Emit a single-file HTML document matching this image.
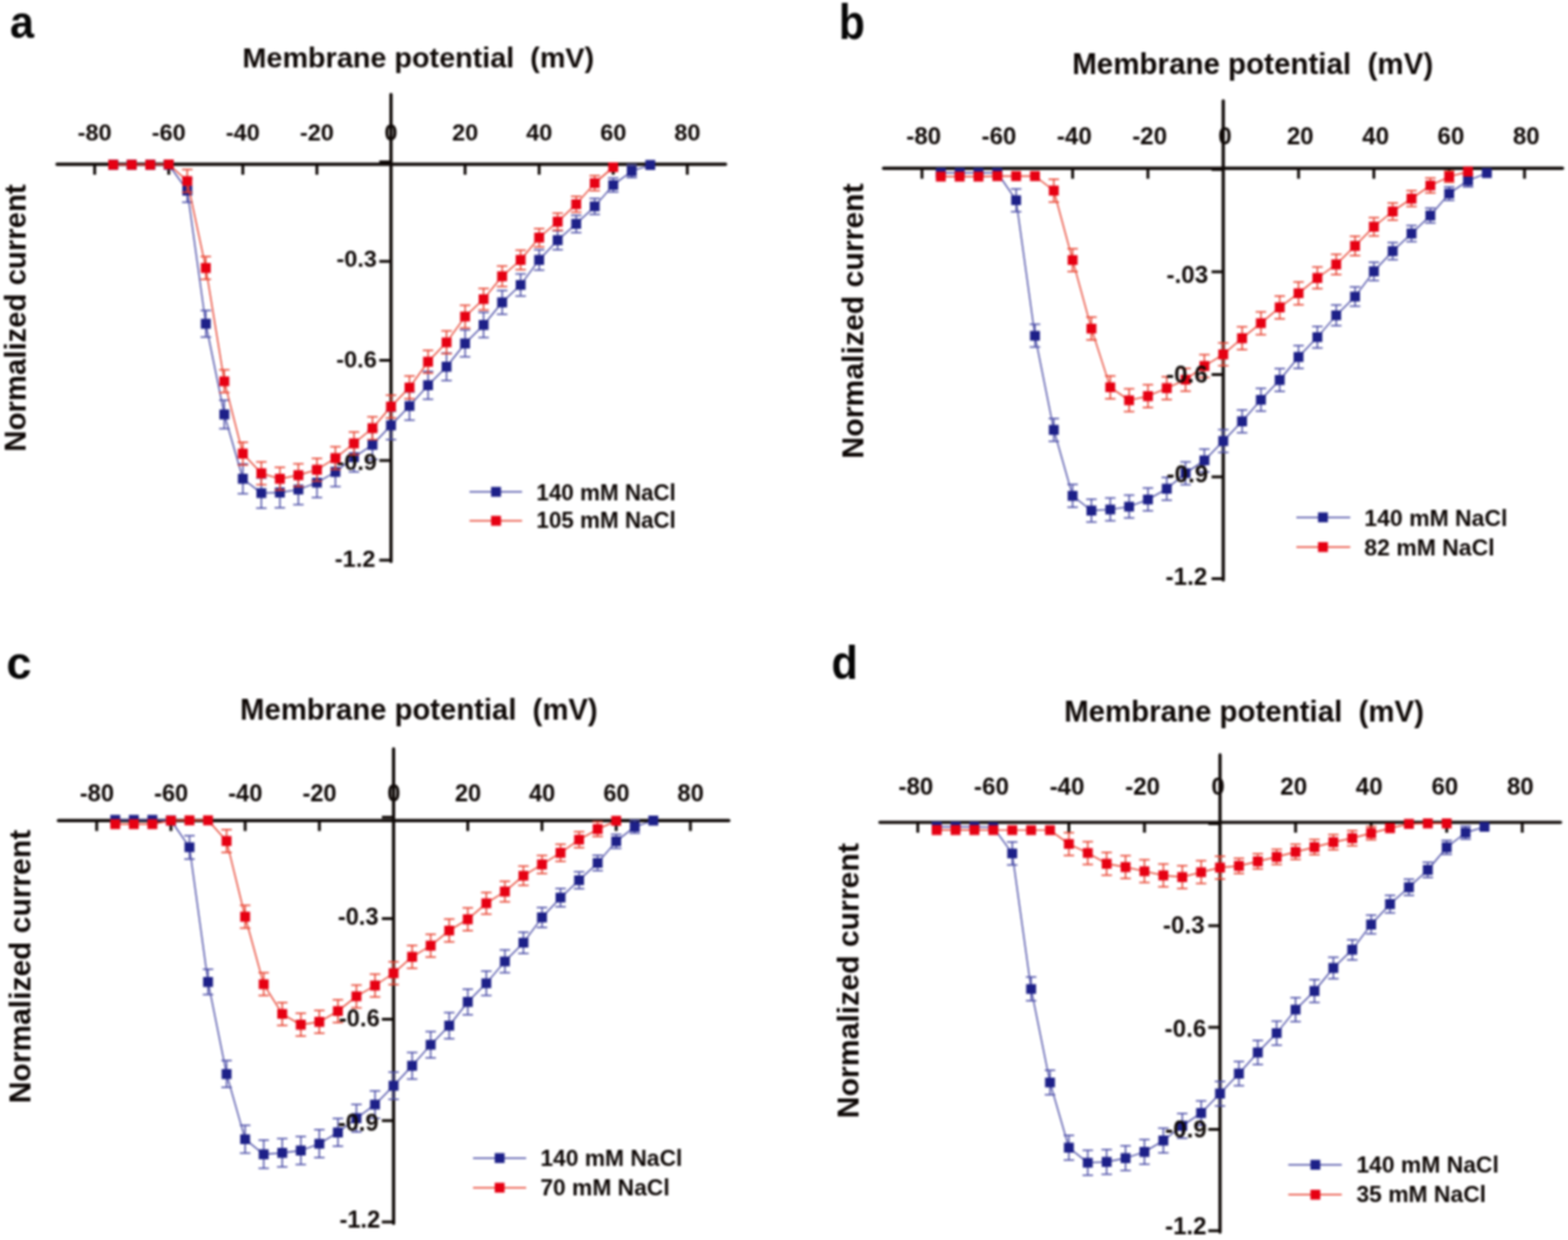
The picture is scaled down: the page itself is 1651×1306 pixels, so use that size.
<!DOCTYPE html>
<html><head><meta charset="utf-8"><title>Normalized current vs membrane potential</title>
<style>
html,body{margin:0;padding:0;background:#fff;width:1651px;height:1306px;overflow:hidden;}
svg{display:block;}
#fig{width:1651px;height:1306px;filter:blur(1px);}
text{font-family:"Liberation Sans",Arial,Helvetica,sans-serif;font-weight:bold;fill:#0e0806;}
</style></head><body>
<div id="fig">
<svg width="1651" height="1306" viewBox="0 0 1651 1306">
<rect width="1651" height="1306" fill="#fff"/>
<g id="panel-a">
<line x1="60" y1="173" x2="764" y2="173" stroke="#0e0806" stroke-width="3.4" stroke-linecap="round"/>
<line x1="411.7" y1="99.5" x2="411.7" y2="591.4" stroke="#0e0806" stroke-width="3.4" stroke-linecap="round"/>
<path d="M99.7 173V184M177.7 173V184M255.7 173V184M333.7 173V184M489.7 173V184M567.7 173V184M645.7 173V184M723.7 173V184M399.4 170.4H411.7M399.4 275.3H411.7M399.4 379.6H411.7M399.4 485H411.7M399.4 589.9H411.7" stroke="#0e0806" stroke-width="3.0" fill="none"/>
<polyline points="119.2,173.5 138.7,173.5 158.2,173.5 177.7,173.5 197.2,200.7 216.7,341 236.2,436.5 255.7,504.3 275.2,519.4 294.7,518.8 314.2,515.6 333.7,508.4 353.2,497 372.7,481.6 392.2,468.5 411.7,448 431.2,427.6 450.7,405.8 470.2,386.3 489.7,361.7 509.2,342.2 528.7,318.5 548.2,300.1 567.7,273.7 587.2,253 606.7,235.8 626.2,217.4 645.7,194.9 665.2,180.2 684.7,173.8" fill="none" stroke="#4a4ca6" stroke-width="1.4" stroke-linejoin="round"/>
<path d="M197.2 188.37V213.03M191.7 188.37h11M191.7 213.03h11M216.7 327.12V354.88M211.2 327.12h11M211.2 354.88h11M236.2 421.57V451.43M230.7 421.57h11M230.7 451.43h11M255.7 488.63V519.97M250.2 488.63h11M250.2 519.97h11M275.2 503.56V535.24M269.7 503.56h11M269.7 535.24h11M294.7 502.97V534.63M289.2 502.97h11M289.2 534.63h11M314.2 499.8V531.4M308.7 499.8h11M308.7 531.4h11M333.7 492.68V524.12M328.2 492.68h11M328.2 524.12h11M353.2 481.41V512.59M347.7 481.41h11M347.7 512.59h11M372.7 466.18V497.02M367.2 466.18h11M367.2 497.02h11M392.2 453.22V483.78M386.7 453.22h11M386.7 483.78h11M411.7 432.95V463.05M406.2 432.95h11M406.2 463.05h11M431.2 412.77V442.43M425.7 412.77h11M425.7 442.43h11M450.7 391.21V420.39M445.2 391.21h11M445.2 420.39h11M470.2 371.93V400.67M464.7 371.93h11M464.7 400.67h11M489.7 347.6V375.8M484.2 347.6h11M484.2 375.8h11M509.2 328.91V355.49M503.7 328.91h11M503.7 355.49h11M528.7 306.07V330.93M523.2 306.07h11M523.2 330.93h11M548.2 288.47V311.73M542.7 288.47h11M542.7 311.73h11M567.7 262.96V284.44M562.2 262.96h11M562.2 284.44h11M587.2 243.09V262.91M581.7 243.09h11M581.7 262.91h11M606.7 226.68V244.92M601.2 226.68h11M601.2 244.92h11M626.2 209.08V225.72M620.7 209.08h11M620.7 225.72h11M645.7 187.43V202.37M640.2 187.43h11M640.2 202.37h11M665.2 173.49V186.91M659.7 173.49h11M659.7 186.91h11" fill="none" stroke="#4a4ca6" stroke-width="1.5"/>
<path d="M114 168.3h10.4v10.4h-10.4zM133.5 168.3h10.4v10.4h-10.4zM153 168.3h10.4v10.4h-10.4zM172.5 168.3h10.4v10.4h-10.4zM192 195.5h10.4v10.4h-10.4zM211.5 335.8h10.4v10.4h-10.4zM231 431.3h10.4v10.4h-10.4zM250.5 499.1h10.4v10.4h-10.4zM270 514.2h10.4v10.4h-10.4zM289.5 513.6h10.4v10.4h-10.4zM309 510.4h10.4v10.4h-10.4zM328.5 503.2h10.4v10.4h-10.4zM348 491.8h10.4v10.4h-10.4zM367.5 476.4h10.4v10.4h-10.4zM387 463.3h10.4v10.4h-10.4zM406.5 442.8h10.4v10.4h-10.4zM426 422.4h10.4v10.4h-10.4zM445.5 400.6h10.4v10.4h-10.4zM465 381.1h10.4v10.4h-10.4zM484.5 356.5h10.4v10.4h-10.4zM504 337h10.4v10.4h-10.4zM523.5 313.3h10.4v10.4h-10.4zM543 294.9h10.4v10.4h-10.4zM562.5 268.5h10.4v10.4h-10.4zM582 247.8h10.4v10.4h-10.4zM601.5 230.6h10.4v10.4h-10.4zM621 212.2h10.4v10.4h-10.4zM640.5 189.7h10.4v10.4h-10.4zM660 175h10.4v10.4h-10.4zM679.5 168.6h10.4v10.4h-10.4z" fill="#1d2088"/>
<line x1="494.4" y1="518" x2="549.7" y2="518" stroke="#4a4ca6" stroke-width="1.5"/>
<rect x="517.1" y="512.8" width="10.4" height="10.4" fill="#1d2088"/>
<line x1="494.4" y1="548.5" x2="549.7" y2="548.5" stroke="#e8402e" stroke-width="1.5"/>
<rect x="517.1" y="543.3" width="10.4" height="10.4" fill="#e60012"/>
<text x="99.7" y="147.73" font-size="24.8" text-anchor="middle">-80</text>
<text x="177.7" y="147.73" font-size="24.8" text-anchor="middle">-60</text>
<text x="255.7" y="147.73" font-size="24.8" text-anchor="middle">-40</text>
<text x="333.7" y="147.73" font-size="24.8" text-anchor="middle">-20</text>
<text x="411.7" y="147.73" font-size="24.8" text-anchor="middle">0</text>
<text x="489.7" y="147.73" font-size="24.8" text-anchor="middle">20</text>
<text x="567.7" y="147.73" font-size="24.8" text-anchor="middle">40</text>
<text x="645.7" y="147.73" font-size="24.8" text-anchor="middle">60</text>
<text x="723.7" y="147.73" font-size="24.8" text-anchor="middle">80</text>
<text x="396.92" y="281.48" font-size="24.8" text-anchor="end">-0.3</text>
<text x="396.72" y="386.68" font-size="24.8" text-anchor="end">-0.6</text>
<text x="396.92" y="495.28" font-size="24.8" text-anchor="end">-0.9</text>
<text x="395.32" y="596.68" font-size="24.8" text-anchor="end">-1.2</text>
<text x="440.5" y="71.3" font-size="30.3" text-anchor="middle" xml:space="preserve">Membrane potential  (mV)</text>
<text transform="translate(27.3,334.9) rotate(-90)" font-size="30.9" text-anchor="middle">Normalized current</text>
<text transform="translate(10.6,40) scale(0.93,1)" font-size="49.0" style="fill:#050505">a</text>
<text x="564.8" y="526.8" font-size="23.6">140 mM NaCl</text>
<text x="564.8" y="556.3" font-size="23.6">105 mM NaCl</text>
<polyline points="119.2,173.5 138.7,173.5 158.2,173.5 177.7,173.1 197.2,190.6 216.7,282.2 236.2,401.6 255.7,477.8 275.2,498.5 294.7,504.3 314.2,500.5 333.7,494.7 353.2,482.5 372.7,467 392.2,451 411.7,428.3 431.2,408.1 450.7,381 470.2,360.6 489.7,333.4 509.2,315.1 528.7,291 548.2,273.7 567.7,250.3 587.2,233.5 606.7,215.1 626.2,192.9 645.7,176.1" fill="none" stroke="#e8402e" stroke-width="1.4" stroke-linejoin="round"/>
<path d="M197.2 178.6V202.6M191.7 178.6h11M191.7 202.6h11M216.7 270.2V294.2M211.2 270.2h11M211.2 294.2h11M236.2 389.6V413.6M230.7 389.6h11M230.7 413.6h11M255.7 465.8V489.8M250.2 465.8h11M250.2 489.8h11M275.2 486.5V510.5M269.7 486.5h11M269.7 510.5h11M294.7 492.3V516.3M289.2 492.3h11M289.2 516.3h11M314.2 488.5V512.5M308.7 488.5h11M308.7 512.5h11M333.7 482.7V506.7M328.2 482.7h11M328.2 506.7h11M353.2 470.5V494.5M347.7 470.5h11M347.7 494.5h11M372.7 455V479M367.2 455h11M367.2 479h11M392.2 439V463M386.7 439h11M386.7 463h11M411.7 416.3V440.3M406.2 416.3h11M406.2 440.3h11M431.2 396.1V420.1M425.7 396.1h11M425.7 420.1h11M450.7 369V393M445.2 369h11M445.2 393h11M470.2 348.6V372.6M464.7 348.6h11M464.7 372.6h11M489.7 321.4V345.4M484.2 321.4h11M484.2 345.4h11M509.2 303.7V326.5M503.7 303.7h11M503.7 326.5h11M528.7 280.2V301.8M523.2 280.2h11M523.2 301.8h11M548.2 263.5V283.9M542.7 263.5h11M542.7 283.9h11M567.7 240.7V259.9M562.2 240.7h11M562.2 259.9h11M587.2 224.5V242.5M581.7 224.5h11M581.7 242.5h11M606.7 206.7V223.5M601.2 206.7h11M601.2 223.5h11M626.2 185.1V200.7M620.7 185.1h11M620.7 200.7h11" fill="none" stroke="#e8402e" stroke-width="1.5"/>
<path d="M114 168.3h10.4v10.4h-10.4zM133.5 168.3h10.4v10.4h-10.4zM153 168.3h10.4v10.4h-10.4zM172.5 167.9h10.4v10.4h-10.4zM192 185.4h10.4v10.4h-10.4zM211.5 277h10.4v10.4h-10.4zM231 396.4h10.4v10.4h-10.4zM250.5 472.6h10.4v10.4h-10.4zM270 493.3h10.4v10.4h-10.4zM289.5 499.1h10.4v10.4h-10.4zM309 495.3h10.4v10.4h-10.4zM328.5 489.5h10.4v10.4h-10.4zM348 477.3h10.4v10.4h-10.4zM367.5 461.8h10.4v10.4h-10.4zM387 445.8h10.4v10.4h-10.4zM406.5 423.1h10.4v10.4h-10.4zM426 402.9h10.4v10.4h-10.4zM445.5 375.8h10.4v10.4h-10.4zM465 355.4h10.4v10.4h-10.4zM484.5 328.2h10.4v10.4h-10.4zM504 309.9h10.4v10.4h-10.4zM523.5 285.8h10.4v10.4h-10.4zM543 268.5h10.4v10.4h-10.4zM562.5 245.1h10.4v10.4h-10.4zM582 228.3h10.4v10.4h-10.4zM601.5 209.9h10.4v10.4h-10.4zM621 187.7h10.4v10.4h-10.4zM640.5 170.9h10.4v10.4h-10.4z" fill="#e60012"/>
</g>
<g id="panel-b">
<line x1="930.3" y1="177.3" x2="1645.2" y2="177.3" stroke="#0e0806" stroke-width="3.4" stroke-linecap="round"/>
<line x1="1288" y1="106.1" x2="1288" y2="610.9" stroke="#0e0806" stroke-width="3.4" stroke-linecap="round"/>
<path d="M970.8 177.3V188.3M1050.1 177.3V188.3M1129.4 177.3V188.3M1208.7 177.3V188.3M1367.3 177.3V188.3M1446.6 177.3V188.3M1525.9 177.3V188.3M1605.2 177.3V188.3M1275.7 178.4H1288M1275.7 286.2H1288M1275.7 394.4H1288M1275.7 502.3H1288M1275.7 609.4H1288" stroke="#0e0806" stroke-width="3.0" fill="none"/>
<polyline points="990.62,182 1010.45,182 1030.28,182 1050.1,182 1069.92,210.9 1089.75,353.6 1109.58,452.7 1129.4,522.2 1149.22,537.8 1169.05,536.6 1188.88,533.6 1208.7,526.1 1228.53,514.8 1248.35,498.4 1268.17,484.9 1288,464.5 1307.83,443.7 1327.65,421.1 1347.47,400.2 1367.3,376 1387.12,355.1 1406.95,332.1 1426.78,312.4 1446.6,285.8 1466.42,264.5 1486.25,246 1506.08,227 1525.9,203.9 1545.72,190.2 1565.55,182.3" fill="none" stroke="#4a4ca6" stroke-width="1.4" stroke-linejoin="round"/>
<path d="M1069.92 198.9V222.9M1064.42 198.9h11M1064.42 222.9h11M1089.75 341.6V365.6M1084.25 341.6h11M1084.25 365.6h11M1109.58 440.7V464.7M1104.08 440.7h11M1104.08 464.7h11M1129.4 510.2V534.2M1123.9 510.2h11M1123.9 534.2h11M1149.22 525.8V549.8M1143.72 525.8h11M1143.72 549.8h11M1169.05 524.6V548.6M1163.55 524.6h11M1163.55 548.6h11M1188.88 521.6V545.6M1183.38 521.6h11M1183.38 545.6h11M1208.7 514.1V538.1M1203.2 514.1h11M1203.2 538.1h11M1228.53 502.8V526.8M1223.03 502.8h11M1223.03 526.8h11M1248.35 486.4V510.4M1242.85 486.4h11M1242.85 510.4h11M1268.17 472.9V496.9M1262.67 472.9h11M1262.67 496.9h11M1288 452.5V476.5M1282.5 452.5h11M1282.5 476.5h11M1307.83 431.7V455.7M1302.33 431.7h11M1302.33 455.7h11M1327.65 409.1V433.1M1322.15 409.1h11M1322.15 433.1h11M1347.47 388.2V412.2M1341.97 388.2h11M1341.97 412.2h11M1367.3 364V388M1361.8 364h11M1361.8 388h11M1387.12 343.7V366.5M1381.62 343.7h11M1381.62 366.5h11M1406.95 321.3V342.9M1401.45 321.3h11M1401.45 342.9h11M1426.78 302.2V322.6M1421.28 302.2h11M1421.28 322.6h11M1446.6 276.2V295.4M1441.1 276.2h11M1441.1 295.4h11M1466.42 255.5V273.5M1460.92 255.5h11M1460.92 273.5h11M1486.25 237.6V254.4M1480.75 237.6h11M1480.75 254.4h11M1506.08 219.2V234.8M1500.58 219.2h11M1500.58 234.8h11M1525.9 196.7V211.1M1520.4 196.7h11M1520.4 211.1h11M1545.72 183.6V196.8M1540.22 183.6h11M1540.22 196.8h11" fill="none" stroke="#4a4ca6" stroke-width="1.5"/>
<path d="M985.42 176.8h10.4v10.4h-10.4zM1005.25 176.8h10.4v10.4h-10.4zM1025.08 176.8h10.4v10.4h-10.4zM1044.9 176.8h10.4v10.4h-10.4zM1064.72 205.7h10.4v10.4h-10.4zM1084.55 348.4h10.4v10.4h-10.4zM1104.38 447.5h10.4v10.4h-10.4zM1124.2 517h10.4v10.4h-10.4zM1144.02 532.6h10.4v10.4h-10.4zM1163.85 531.4h10.4v10.4h-10.4zM1183.67 528.4h10.4v10.4h-10.4zM1203.5 520.9h10.4v10.4h-10.4zM1223.33 509.6h10.4v10.4h-10.4zM1243.15 493.2h10.4v10.4h-10.4zM1262.97 479.7h10.4v10.4h-10.4zM1282.8 459.3h10.4v10.4h-10.4zM1302.62 438.5h10.4v10.4h-10.4zM1322.45 415.9h10.4v10.4h-10.4zM1342.27 395h10.4v10.4h-10.4zM1362.1 370.8h10.4v10.4h-10.4zM1381.92 349.9h10.4v10.4h-10.4zM1401.75 326.9h10.4v10.4h-10.4zM1421.58 307.2h10.4v10.4h-10.4zM1441.4 280.6h10.4v10.4h-10.4zM1461.22 259.3h10.4v10.4h-10.4zM1481.05 240.8h10.4v10.4h-10.4zM1500.88 221.8h10.4v10.4h-10.4zM1520.7 198.7h10.4v10.4h-10.4zM1540.52 185h10.4v10.4h-10.4zM1560.35 177.1h10.4v10.4h-10.4z" fill="#1d2088"/>
<polyline points="990.62,186 1010.45,186 1030.28,186 1050.1,185.5 1069.92,185.5 1089.75,185.5 1109.58,200.7 1129.4,273.9 1149.22,346.1 1169.05,407.9 1188.88,421.6 1208.7,417.2 1228.53,408.8 1248.35,399.9 1268.17,385.5 1288,373.3 1307.83,356.3 1327.65,340.4 1347.47,323.8 1367.3,308.9 1387.12,292.7 1406.95,278.5 1426.78,259 1446.6,238.8 1466.42,222.7 1486.25,209.2 1506.08,195.4 1525.9,186.1 1545.72,180.7" fill="none" stroke="#e8402e" stroke-width="1.4" stroke-linejoin="round"/>
<path d="M1109.58 188.7V212.7M1104.08 188.7h11M1104.08 212.7h11M1129.4 261.9V285.9M1123.9 261.9h11M1123.9 285.9h11M1149.22 334.1V358.1M1143.72 334.1h11M1143.72 358.1h11M1169.05 395.9V419.9M1163.55 395.9h11M1163.55 419.9h11M1188.88 409.6V433.6M1183.38 409.6h11M1183.38 433.6h11M1208.7 405.2V429.2M1203.2 405.2h11M1203.2 429.2h11M1228.53 396.8V420.8M1223.03 396.8h11M1223.03 420.8h11M1248.35 387.9V411.9M1242.85 387.9h11M1242.85 411.9h11M1268.17 373.5V397.5M1262.67 373.5h11M1262.67 397.5h11M1288 361.3V385.3M1282.5 361.3h11M1282.5 385.3h11M1307.83 344.3V368.3M1302.33 344.3h11M1302.33 368.3h11M1327.65 328.4V352.4M1322.15 328.4h11M1322.15 352.4h11M1347.47 311.8V335.8M1341.97 311.8h11M1341.97 335.8h11M1367.3 296.9V320.9M1361.8 296.9h11M1361.8 320.9h11M1387.12 281.3V304.1M1381.62 281.3h11M1381.62 304.1h11M1406.95 267.7V289.3M1401.45 267.7h11M1401.45 289.3h11M1426.78 248.8V269.2M1421.28 248.8h11M1421.28 269.2h11M1446.6 229.2V248.4M1441.1 229.2h11M1441.1 248.4h11M1466.42 213.7V231.7M1460.92 213.7h11M1460.92 231.7h11M1486.25 200.8V217.6M1480.75 200.8h11M1480.75 217.6h11M1506.08 187.6V203.2M1500.58 187.6h11M1500.58 203.2h11M1525.9 180.25V191.95M1520.4 180.25h11M1520.4 191.95h11" fill="none" stroke="#e8402e" stroke-width="1.5"/>
<path d="M985.42 180.8h10.4v10.4h-10.4zM1005.25 180.8h10.4v10.4h-10.4zM1025.08 180.8h10.4v10.4h-10.4zM1044.9 180.3h10.4v10.4h-10.4zM1064.72 180.3h10.4v10.4h-10.4zM1084.55 180.3h10.4v10.4h-10.4zM1104.38 195.5h10.4v10.4h-10.4zM1124.2 268.7h10.4v10.4h-10.4zM1144.02 340.9h10.4v10.4h-10.4zM1163.85 402.7h10.4v10.4h-10.4zM1183.67 416.4h10.4v10.4h-10.4zM1203.5 412h10.4v10.4h-10.4zM1223.33 403.6h10.4v10.4h-10.4zM1243.15 394.7h10.4v10.4h-10.4zM1262.97 380.3h10.4v10.4h-10.4zM1282.8 368.1h10.4v10.4h-10.4zM1302.62 351.1h10.4v10.4h-10.4zM1322.45 335.2h10.4v10.4h-10.4zM1342.27 318.6h10.4v10.4h-10.4zM1362.1 303.7h10.4v10.4h-10.4zM1381.92 287.5h10.4v10.4h-10.4zM1401.75 273.3h10.4v10.4h-10.4zM1421.58 253.8h10.4v10.4h-10.4zM1441.4 233.6h10.4v10.4h-10.4zM1461.22 217.5h10.4v10.4h-10.4zM1481.05 204h10.4v10.4h-10.4zM1500.88 190.2h10.4v10.4h-10.4zM1520.7 180.9h10.4v10.4h-10.4zM1540.52 175.5h10.4v10.4h-10.4z" fill="#e60012"/>
<line x1="1365" y1="544.9" x2="1421.7" y2="544.9" stroke="#4a4ca6" stroke-width="1.5"/>
<rect x="1387.8" y="539.7" width="10.4" height="10.4" fill="#1d2088"/>
<line x1="1365" y1="576.2" x2="1421.7" y2="576.2" stroke="#e8402e" stroke-width="1.5"/>
<rect x="1387.8" y="571" width="10.4" height="10.4" fill="#e60012"/>
<text x="972.6" y="152.39" font-size="25.4" text-anchor="middle">-80</text>
<text x="1051.9" y="152.39" font-size="25.4" text-anchor="middle">-60</text>
<text x="1131.2" y="152.39" font-size="25.4" text-anchor="middle">-40</text>
<text x="1210.5" y="152.39" font-size="25.4" text-anchor="middle">-20</text>
<text x="1289.8" y="152.39" font-size="25.4" text-anchor="middle">0</text>
<text x="1369.1" y="152.39" font-size="25.4" text-anchor="middle">20</text>
<text x="1448.4" y="152.39" font-size="25.4" text-anchor="middle">40</text>
<text x="1527.7" y="152.39" font-size="25.4" text-anchor="middle">60</text>
<text x="1607" y="152.39" font-size="25.4" text-anchor="middle">80</text>
<text x="1272.14" y="298.19" font-size="25.4" text-anchor="end">-.03</text>
<text x="1271.54" y="402.99" font-size="25.4" text-anchor="end">-0.6</text>
<text x="1272.14" y="507.59" font-size="25.4" text-anchor="end">-0.9</text>
<text x="1271.14" y="615.69" font-size="25.4" text-anchor="end">-1.2</text>
<text x="1319" y="78.2" font-size="31.1" text-anchor="middle" xml:space="preserve">Membrane potential  (mV)</text>
<text transform="translate(909.2,338) rotate(-90)" font-size="31.8" text-anchor="middle">Normalized current</text>
<text transform="translate(883.2,40.5) scale(0.88,1)" font-size="51.0" style="fill:#050505">b</text>
<text x="1436.6" y="553.9" font-size="24.2">140 mM NaCl</text>
<text x="1436.6" y="584.6" font-size="24.2">82 mM NaCl</text>
</g>
<g id="panel-c">
<line x1="61.5" y1="864.3" x2="767.4" y2="864.3" stroke="#0e0806" stroke-width="3.4" stroke-linecap="round"/>
<line x1="414.4" y1="788.8" x2="414.4" y2="1288.6" stroke="#0e0806" stroke-width="3.4" stroke-linecap="round"/>
<path d="M101.84 864.3V875.3M179.98 864.3V875.3M258.12 864.3V875.3M336.26 864.3V875.3M492.54 864.3V875.3M570.68 864.3V875.3M648.82 864.3V875.3M726.96 864.3V875.3M402.1 860.8H414.4M402.1 967.4H414.4M402.1 1073.6H414.4M402.1 1180.3H414.4M402.1 1287.1H414.4" stroke="#0e0806" stroke-width="3.0" fill="none"/>
<polyline points="121.38,863.5 140.91,863.5 160.44,863.5 179.98,864 199.51,892.4 219.05,1034.2 238.58,1131.2 258.12,1199.9 277.65,1215.7 297.19,1214.2 316.72,1211.8 336.26,1204.6 355.79,1192.7 375.33,1177.8 394.86,1163.4 414.4,1143.5 433.94,1122.5 453.47,1100.4 473,1080.2 492.54,1055.3 512.07,1035.6 531.61,1012.6 551.14,992.9 570.68,966.3 590.21,945.4 609.75,927.1 629.28,908.9 648.82,886.1 668.36,870.8 687.89,864.2" fill="none" stroke="#4a4ca6" stroke-width="1.4" stroke-linejoin="round"/>
<path d="M199.51 880.15V904.65M194.01 880.15h11M194.01 904.65h11M219.05 1020.81V1047.59M213.55 1020.81h11M213.55 1047.59h11M238.58 1117.04V1145.36M233.08 1117.04h11M233.08 1145.36h11M258.12 1185.19V1214.61M252.62 1185.19h11M252.62 1214.61h11M277.65 1200.86V1230.54M272.15 1200.86h11M272.15 1230.54h11M297.19 1199.37V1229.03M291.69 1199.37h11M291.69 1229.03h11M316.72 1196.99V1226.61M311.22 1196.99h11M311.22 1226.61h11M336.26 1189.85V1219.35M330.76 1189.85h11M330.76 1219.35h11M355.79 1178.04V1207.36M350.29 1178.04h11M350.29 1207.36h11M375.33 1163.26V1192.34M369.83 1163.26h11M369.83 1192.34h11M394.86 1148.98V1177.82M389.36 1148.98h11M389.36 1177.82h11M414.4 1129.24V1157.76M408.9 1129.24h11M408.9 1157.76h11M433.94 1108.41V1136.59M428.44 1108.41h11M428.44 1136.59h11M453.47 1086.48V1114.32M447.97 1086.48h11M447.97 1114.32h11M473 1066.44V1093.96M467.5 1066.44h11M467.5 1093.96h11M492.54 1041.74V1068.86M487.04 1041.74h11M487.04 1068.86h11M512.07 1022.8V1048.4M506.57 1022.8h11M506.57 1048.4h11M531.61 1000.59V1024.61M526.11 1000.59h11M526.11 1024.61h11M551.14 981.64V1004.16M545.64 981.64h11M545.64 1004.16h11M570.68 955.86V976.74M565.18 955.86h11M565.18 976.74h11M590.21 935.72V955.08M584.71 935.72h11M584.71 955.08h11M609.75 918.17V936.03M604.25 918.17h11M604.25 936.03h11M629.28 900.72V917.08M623.78 900.72h11M623.78 917.08h11M648.82 878.7V893.5M643.32 878.7h11M643.32 893.5h11M668.36 864.12V877.48M662.86 864.12h11M662.86 877.48h11" fill="none" stroke="#4a4ca6" stroke-width="1.5"/>
<path d="M116.17 858.3h10.4v10.4h-10.4zM135.71 858.3h10.4v10.4h-10.4zM155.24 858.3h10.4v10.4h-10.4zM174.78 858.8h10.4v10.4h-10.4zM194.31 887.2h10.4v10.4h-10.4zM213.85 1029h10.4v10.4h-10.4zM233.38 1126h10.4v10.4h-10.4zM252.92 1194.7h10.4v10.4h-10.4zM272.45 1210.5h10.4v10.4h-10.4zM291.99 1209h10.4v10.4h-10.4zM311.52 1206.6h10.4v10.4h-10.4zM331.06 1199.4h10.4v10.4h-10.4zM350.59 1187.5h10.4v10.4h-10.4zM370.13 1172.6h10.4v10.4h-10.4zM389.66 1158.2h10.4v10.4h-10.4zM409.2 1138.3h10.4v10.4h-10.4zM428.74 1117.3h10.4v10.4h-10.4zM448.27 1095.2h10.4v10.4h-10.4zM467.81 1075h10.4v10.4h-10.4zM487.34 1050.1h10.4v10.4h-10.4zM506.87 1030.4h10.4v10.4h-10.4zM526.41 1007.4h10.4v10.4h-10.4zM545.94 987.7h10.4v10.4h-10.4zM565.48 961.1h10.4v10.4h-10.4zM585.01 940.2h10.4v10.4h-10.4zM604.55 921.9h10.4v10.4h-10.4zM624.08 903.7h10.4v10.4h-10.4zM643.62 880.9h10.4v10.4h-10.4zM663.15 865.6h10.4v10.4h-10.4zM682.69 859h10.4v10.4h-10.4z" fill="#1d2088"/>
<polyline points="121.38,868 140.91,868 160.44,868 179.98,864.2 199.51,864 219.05,864 238.58,885.8 258.12,965.5 277.65,1036.6 297.19,1067.9 316.72,1079.3 336.26,1076.3 355.79,1064.9 375.33,1049.4 394.86,1038 414.4,1025 433.94,1007.8 453.47,996 473,980.1 492.54,968.2 512.07,951.4 531.61,939 551.14,922.4 570.68,910.5 590.21,898.2 609.75,884.4 629.28,873.3 648.82,864.5" fill="none" stroke="#e8402e" stroke-width="1.4" stroke-linejoin="round"/>
<path d="M238.58 873.8V897.8M233.08 873.8h11M233.08 897.8h11M258.12 953.5V977.5M252.62 953.5h11M252.62 977.5h11M277.65 1024.6V1048.6M272.15 1024.6h11M272.15 1048.6h11M297.19 1055.9V1079.9M291.69 1055.9h11M291.69 1079.9h11M316.72 1067.3V1091.3M311.22 1067.3h11M311.22 1091.3h11M336.26 1064.3V1088.3M330.76 1064.3h11M330.76 1088.3h11M355.79 1052.9V1076.9M350.29 1052.9h11M350.29 1076.9h11M375.33 1037.4V1061.4M369.83 1037.4h11M369.83 1061.4h11M394.86 1026V1050M389.36 1026h11M389.36 1050h11M414.4 1013V1037M408.9 1013h11M408.9 1037h11M433.94 995.8V1019.8M428.44 995.8h11M428.44 1019.8h11M453.47 984V1008M447.97 984h11M447.97 1008h11M473 968.1V992.1M467.5 968.1h11M467.5 992.1h11M492.54 956.2V980.2M487.04 956.2h11M487.04 980.2h11M512.07 940V962.8M506.57 940h11M506.57 962.8h11M531.61 928.2V949.8M526.11 928.2h11M526.11 949.8h11M551.14 912.2V932.6M545.64 912.2h11M545.64 932.6h11M570.68 900.9V920.1M565.18 900.9h11M565.18 920.1h11M590.21 889.2V907.2M584.71 889.2h11M584.71 907.2h11M609.75 876V892.8M604.25 876h11M604.25 892.8h11M629.28 865.5V881.1M623.78 865.5h11M623.78 881.1h11" fill="none" stroke="#e8402e" stroke-width="1.5"/>
<path d="M116.17 862.8h10.4v10.4h-10.4zM135.71 862.8h10.4v10.4h-10.4zM155.24 862.8h10.4v10.4h-10.4zM174.78 859h10.4v10.4h-10.4zM194.31 858.8h10.4v10.4h-10.4zM213.85 858.8h10.4v10.4h-10.4zM233.38 880.6h10.4v10.4h-10.4zM252.92 960.3h10.4v10.4h-10.4zM272.45 1031.4h10.4v10.4h-10.4zM291.99 1062.7h10.4v10.4h-10.4zM311.52 1074.1h10.4v10.4h-10.4zM331.06 1071.1h10.4v10.4h-10.4zM350.59 1059.7h10.4v10.4h-10.4zM370.13 1044.2h10.4v10.4h-10.4zM389.66 1032.8h10.4v10.4h-10.4zM409.2 1019.8h10.4v10.4h-10.4zM428.74 1002.6h10.4v10.4h-10.4zM448.27 990.8h10.4v10.4h-10.4zM467.81 974.9h10.4v10.4h-10.4zM487.34 963h10.4v10.4h-10.4zM506.87 946.2h10.4v10.4h-10.4zM526.41 933.8h10.4v10.4h-10.4zM545.94 917.2h10.4v10.4h-10.4zM565.48 905.3h10.4v10.4h-10.4zM585.01 893h10.4v10.4h-10.4zM604.55 879.2h10.4v10.4h-10.4zM624.08 868.1h10.4v10.4h-10.4zM643.62 859.3h10.4v10.4h-10.4z" fill="#e60012"/>
<line x1="498.1" y1="1219.7" x2="554" y2="1219.7" stroke="#4a4ca6" stroke-width="1.5"/>
<rect x="520.9" y="1214.5" width="10.4" height="10.4" fill="#1d2088"/>
<line x1="498.1" y1="1250.9" x2="554" y2="1250.9" stroke="#e8402e" stroke-width="1.5"/>
<rect x="520.9" y="1245.7" width="10.4" height="10.4" fill="#e60012"/>
<text x="102.04" y="844.42" font-size="24.9" text-anchor="middle">-80</text>
<text x="180.18" y="844.42" font-size="24.9" text-anchor="middle">-60</text>
<text x="258.32" y="844.42" font-size="24.9" text-anchor="middle">-40</text>
<text x="336.46" y="844.42" font-size="24.9" text-anchor="middle">-20</text>
<text x="414.6" y="844.42" font-size="24.9" text-anchor="middle">0</text>
<text x="492.74" y="844.42" font-size="24.9" text-anchor="middle">20</text>
<text x="570.88" y="844.42" font-size="24.9" text-anchor="middle">40</text>
<text x="649.02" y="844.42" font-size="24.9" text-anchor="middle">60</text>
<text x="727.16" y="844.42" font-size="24.9" text-anchor="middle">80</text>
<text x="398.62" y="973.62" font-size="24.9" text-anchor="end">-0.3</text>
<text x="399.72" y="1080.82" font-size="24.9" text-anchor="end">-0.6</text>
<text x="398.62" y="1191.12" font-size="24.9" text-anchor="end">-0.9</text>
<text x="400.32" y="1292.82" font-size="24.9" text-anchor="end">-1.2</text>
<text x="441.1" y="757.7" font-size="30.8" text-anchor="middle" xml:space="preserve">Membrane potential  (mV)</text>
<text transform="translate(31.8,1018) rotate(-90)" font-size="31.6" text-anchor="middle">Normalized current</text>
<text transform="translate(6.8,714.6) scale(0.97,1)" font-size="49.0" style="fill:#050505">c</text>
<text x="569" y="1228.4" font-size="24.0">140 mM NaCl</text>
<text x="569" y="1259.3" font-size="24.0">70 mM NaCl</text>
</g>
<g id="panel-d">
<line x1="926.4" y1="866.1" x2="1643.2" y2="866.1" stroke="#0e0806" stroke-width="3.4" stroke-linecap="round"/>
<line x1="1284.6" y1="794.9" x2="1284.6" y2="1297.8" stroke="#0e0806" stroke-width="3.4" stroke-linecap="round"/>
<path d="M966.36 866.1V877.1M1045.92 866.1V877.1M1125.48 866.1V877.1M1205.04 866.1V877.1M1364.16 866.1V877.1M1443.72 866.1V877.1M1523.28 866.1V877.1M1602.84 866.1V877.1M1272.3 867.6H1284.6M1272.3 974.9H1284.6M1272.3 1081.9H1284.6M1272.3 1189.4H1284.6M1272.3 1296.3H1284.6" stroke="#0e0806" stroke-width="3.0" fill="none"/>
<polyline points="986.25,870.7 1006.14,870.7 1026.03,870.7 1045.92,871.4 1065.81,898.9 1085.7,1041.6 1105.59,1140.1 1125.48,1208.7 1145.37,1224.6 1165.26,1223.7 1185.15,1219.8 1205.04,1213.2 1224.93,1201.3 1244.82,1185.7 1264.71,1172.3 1284.6,1151.8 1304.49,1130.8 1324.38,1108.5 1344.27,1088.1 1364.16,1063.4 1384.05,1043.7 1403.94,1019.5 1423.83,1000.3 1443.72,973.7 1463.61,952.3 1483.5,934.5 1503.39,916.2 1523.28,892.5 1543.17,877 1563.06,870.9" fill="none" stroke="#4a4ca6" stroke-width="1.4" stroke-linejoin="round"/>
<path d="M1065.81 886.81V910.99M1060.31 886.81h11M1060.31 910.99h11M1085.7 1029.08V1054.12M1080.2 1029.08h11M1080.2 1054.12h11M1105.59 1127.28V1152.92M1100.09 1127.28h11M1100.09 1152.92h11M1125.48 1195.68V1221.72M1119.98 1195.68h11M1119.98 1221.72h11M1145.37 1211.53V1237.67M1139.87 1211.53h11M1139.87 1237.67h11M1165.26 1210.63V1236.77M1159.76 1210.63h11M1159.76 1236.77h11M1185.15 1206.74V1232.86M1179.65 1206.74h11M1179.65 1232.86h11M1205.04 1200.16V1226.24M1199.54 1200.16h11M1199.54 1226.24h11M1224.93 1188.3V1214.3M1219.43 1188.3h11M1219.43 1214.3h11M1244.82 1172.75V1198.65M1239.32 1172.75h11M1239.32 1198.65h11M1264.71 1159.39V1185.21M1259.21 1159.39h11M1259.21 1185.21h11M1284.6 1138.95V1164.65M1279.1 1138.95h11M1279.1 1164.65h11M1304.49 1118.01V1143.59M1298.99 1118.01h11M1298.99 1143.59h11M1324.38 1095.78V1121.22M1318.88 1095.78h11M1318.88 1121.22h11M1344.27 1075.44V1100.76M1338.77 1075.44h11M1338.77 1100.76h11M1364.16 1050.81V1075.99M1358.66 1050.81h11M1358.66 1075.99h11M1384.05 1031.77V1055.63M1378.55 1031.77h11M1378.55 1055.63h11M1403.94 1008.24V1030.76M1398.44 1008.24h11M1398.44 1030.76h11M1423.83 989.7V1010.9M1418.33 989.7h11M1418.33 1010.9h11M1443.72 963.78V983.62M1438.22 963.78h11M1438.22 983.62h11M1463.61 943.05V961.55M1458.11 943.05h11M1458.11 961.55h11M1483.5 925.9V943.1M1478 925.9h11M1478 943.1h11M1503.39 908.25V924.15M1497.89 908.25h11M1497.89 924.15h11M1523.28 885.23V899.77M1517.78 885.23h11M1517.78 899.77h11M1543.17 870.37V883.63M1537.67 870.37h11M1537.67 883.63h11" fill="none" stroke="#4a4ca6" stroke-width="1.5"/>
<path d="M981.05 865.5h10.4v10.4h-10.4zM1000.94 865.5h10.4v10.4h-10.4zM1020.83 865.5h10.4v10.4h-10.4zM1040.72 866.2h10.4v10.4h-10.4zM1060.61 893.7h10.4v10.4h-10.4zM1080.5 1036.4h10.4v10.4h-10.4zM1100.39 1134.9h10.4v10.4h-10.4zM1120.28 1203.5h10.4v10.4h-10.4zM1140.17 1219.4h10.4v10.4h-10.4zM1160.06 1218.5h10.4v10.4h-10.4zM1179.95 1214.6h10.4v10.4h-10.4zM1199.84 1208h10.4v10.4h-10.4zM1219.73 1196.1h10.4v10.4h-10.4zM1239.62 1180.5h10.4v10.4h-10.4zM1259.51 1167.1h10.4v10.4h-10.4zM1279.4 1146.6h10.4v10.4h-10.4zM1299.29 1125.6h10.4v10.4h-10.4zM1319.18 1103.3h10.4v10.4h-10.4zM1339.07 1082.9h10.4v10.4h-10.4zM1358.96 1058.2h10.4v10.4h-10.4zM1378.85 1038.5h10.4v10.4h-10.4zM1398.74 1014.3h10.4v10.4h-10.4zM1418.63 995.1h10.4v10.4h-10.4zM1438.52 968.5h10.4v10.4h-10.4zM1458.41 947.1h10.4v10.4h-10.4zM1478.3 929.3h10.4v10.4h-10.4zM1498.19 911h10.4v10.4h-10.4zM1518.08 887.3h10.4v10.4h-10.4zM1537.97 871.8h10.4v10.4h-10.4zM1557.86 865.7h10.4v10.4h-10.4z" fill="#1d2088"/>
<polyline points="986.25,874.2 1006.14,874.2 1026.03,874.2 1045.92,874.4 1065.81,874.4 1085.7,874.4 1105.59,874.4 1125.48,888.9 1145.37,898.4 1165.26,909.7 1185.15,913.3 1205.04,917.6 1224.93,922 1244.82,923.8 1264.71,918.6 1284.6,913.8 1304.49,912 1324.38,907.2 1344.27,902.5 1364.16,897.2 1384.05,892.3 1403.94,887 1423.83,882.8 1443.72,877.5 1463.61,872.3 1483.5,867.7 1503.39,867.3 1523.28,867.3" fill="none" stroke="#e8402e" stroke-width="1.4" stroke-linejoin="round"/>
<path d="M1125.48 876.9V900.9M1119.98 876.9h11M1119.98 900.9h11M1145.37 886.4V910.4M1139.87 886.4h11M1139.87 910.4h11M1165.26 897.7V921.7M1159.76 897.7h11M1159.76 921.7h11M1185.15 901.3V925.3M1179.65 901.3h11M1179.65 925.3h11M1205.04 905.6V929.6M1199.54 905.6h11M1199.54 929.6h11M1224.93 910V934M1219.43 910h11M1219.43 934h11M1244.82 911.8V935.8M1239.32 911.8h11M1239.32 935.8h11M1264.71 906.6V930.6M1259.21 906.6h11M1259.21 930.6h11M1284.6 901.8V925.8M1279.1 901.8h11M1279.1 925.8h11M1304.49 904V920M1298.99 904h11M1298.99 920h11M1324.38 899.2V915.2M1318.88 899.2h11M1318.88 915.2h11M1344.27 894.5V910.5M1338.77 894.5h11M1338.77 910.5h11M1364.16 889.2V905.2M1358.66 889.2h11M1358.66 905.2h11M1384.05 884.3V900.3M1378.55 884.3h11M1378.55 900.3h11M1403.94 879V895M1398.44 879h11M1398.44 895h11M1423.83 874.8V890.8M1418.33 874.8h11M1418.33 890.8h11M1443.72 870.55V884.45M1438.22 870.55h11M1438.22 884.45h11" fill="none" stroke="#e8402e" stroke-width="1.5"/>
<path d="M981.05 869h10.4v10.4h-10.4zM1000.94 869h10.4v10.4h-10.4zM1020.83 869h10.4v10.4h-10.4zM1040.72 869.2h10.4v10.4h-10.4zM1060.61 869.2h10.4v10.4h-10.4zM1080.5 869.2h10.4v10.4h-10.4zM1100.39 869.2h10.4v10.4h-10.4zM1120.28 883.7h10.4v10.4h-10.4zM1140.17 893.2h10.4v10.4h-10.4zM1160.06 904.5h10.4v10.4h-10.4zM1179.95 908.1h10.4v10.4h-10.4zM1199.84 912.4h10.4v10.4h-10.4zM1219.73 916.8h10.4v10.4h-10.4zM1239.62 918.6h10.4v10.4h-10.4zM1259.51 913.4h10.4v10.4h-10.4zM1279.4 908.6h10.4v10.4h-10.4zM1299.29 906.8h10.4v10.4h-10.4zM1319.18 902h10.4v10.4h-10.4zM1339.07 897.3h10.4v10.4h-10.4zM1358.96 892h10.4v10.4h-10.4zM1378.85 887.1h10.4v10.4h-10.4zM1398.74 881.8h10.4v10.4h-10.4zM1418.63 877.6h10.4v10.4h-10.4zM1438.52 872.3h10.4v10.4h-10.4zM1458.41 867.1h10.4v10.4h-10.4zM1478.3 862.5h10.4v10.4h-10.4zM1498.19 862.1h10.4v10.4h-10.4zM1518.08 862.1h10.4v10.4h-10.4z" fill="#e60012"/>
<line x1="1356.5" y1="1226.8" x2="1412.8" y2="1226.8" stroke="#4a4ca6" stroke-width="1.5"/>
<rect x="1379.8" y="1221.6" width="10.4" height="10.4" fill="#1d2088"/>
<line x1="1356.5" y1="1258.3" x2="1412.8" y2="1258.3" stroke="#e8402e" stroke-width="1.5"/>
<rect x="1379.8" y="1253.1" width="10.4" height="10.4" fill="#e60012"/>
<text x="964.36" y="837.39" font-size="25.4" text-anchor="middle">-80</text>
<text x="1043.92" y="837.39" font-size="25.4" text-anchor="middle">-60</text>
<text x="1123.48" y="837.39" font-size="25.4" text-anchor="middle">-40</text>
<text x="1203.04" y="837.39" font-size="25.4" text-anchor="middle">-20</text>
<text x="1282.6" y="837.39" font-size="25.4" text-anchor="middle">0</text>
<text x="1362.16" y="837.39" font-size="25.4" text-anchor="middle">20</text>
<text x="1441.72" y="837.39" font-size="25.4" text-anchor="middle">40</text>
<text x="1521.28" y="837.39" font-size="25.4" text-anchor="middle">60</text>
<text x="1600.84" y="837.39" font-size="25.4" text-anchor="middle">80</text>
<text x="1268.34" y="982.99" font-size="25.4" text-anchor="end">-0.3</text>
<text x="1270.14" y="1091.99" font-size="25.4" text-anchor="end">-0.6</text>
<text x="1270.64" y="1198.19" font-size="25.4" text-anchor="end">-0.9</text>
<text x="1270.44" y="1300.39" font-size="25.4" text-anchor="end">-1.2</text>
<text x="1309.9" y="760.2" font-size="31.0" text-anchor="middle" xml:space="preserve">Membrane potential  (mV)</text>
<text transform="translate(903.6,1032.9) rotate(-90)" font-size="31.8" text-anchor="middle">Normalized current</text>
<text transform="translate(875.4,714.8) scale(0.9,1)" font-size="50.5" style="fill:#050505">d</text>
<text x="1428.2" y="1235.4" font-size="24.1">140 mM NaCl</text>
<text x="1428.2" y="1266.1" font-size="24.1">35 mM NaCl</text>
</g>
</svg>
</div>
</body></html>
